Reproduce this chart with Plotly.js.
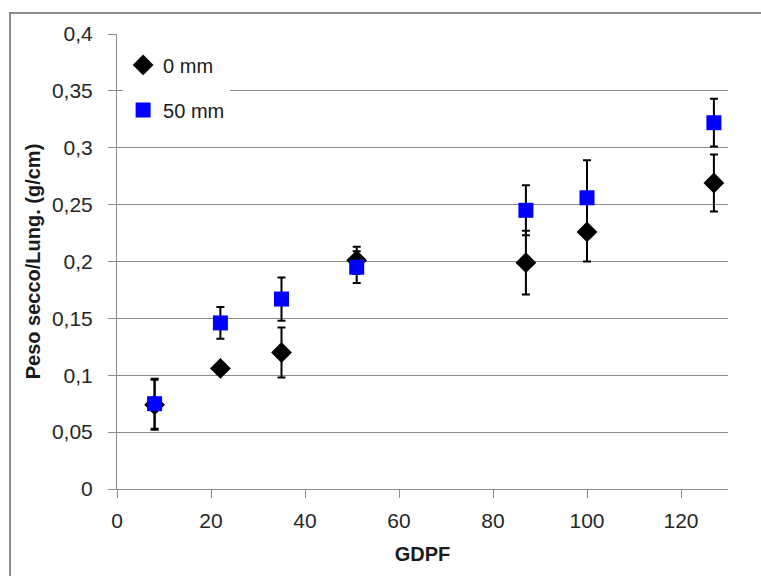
<!DOCTYPE html>
<html>
<head>
<meta charset="utf-8">
<script src="https://cdn.plot.ly/plotly-3.0.1.min.js"></script>
<style>
html,body{margin:0;padding:0;background:#fff;}
#wrap{position:relative;width:761px;height:576px;overflow:hidden;}
#chart{position:absolute;left:0;top:0;width:761px;height:576px;}
#frame{position:absolute;left:9px;top:12px;width:800px;height:600px;border:2px solid #8c8c8c;pointer-events:none;}
</style>
</head>
<body>
<div id="wrap"><div id="chart"></div><div id="frame"></div></div>
<script>
const gdpf = [8, 22, 35, 51, 87, 100, 127];
const mm0 = [0.074, 0.106, 0.120, 0.201, 0.199, 0.226, 0.269];
const mm0Err = [0.022, 0.004, 0.022, 0.012, 0.028, 0.026, 0.025];
const mm50 = [0.075, 0.146, 0.167, 0.195, 0.245, 0.256, 0.322];
const mm50Err = [0.022, 0.014, 0.019, 0.014, 0.022, 0.033, 0.021];
const seriesNames = ['0 mm', '50 mm'];
const xTitle = 'GDPF';
const yTitle = 'Peso secco/Lung. (g/cm)';

const fontFam = '"Liberation Sans", Arial, sans-serif';

const traces = [
  {
    x: gdpf, y: mm0, name: seriesNames[0], type: 'scatter', mode: 'markers',
    legendgroup: 'a',
    marker: {symbol: 'diamond', size: 16, color: '#000000'},
    error_y: {type: 'data', array: mm0Err, visible: true, color: '#000000', thickness: 2, width: 4}
  },
  {
    x: gdpf, y: mm50, name: seriesNames[1], type: 'scatter', mode: 'markers',
    legendgroup: 'b',
    marker: {symbol: 'square', size: 15, color: '#0000ff'},
    error_y: {type: 'data', array: mm50Err, visible: true, color: '#000000', thickness: 2, width: 4}
  }
];

const layout = {
  width: 761, height: 576,
  margin: {l: 117, r: 33, t: 34, b: 87},
  paper_bgcolor: 'rgba(0,0,0,0)',
  plot_bgcolor: '#ffffff',
  separators: ',.',
  font: {family: fontFam, size: 21, color: '#262626'},
  showlegend: true,
  legend: {
    x: 0.01, y: 0.975, xanchor: 'left', yanchor: 'top',
    bgcolor: '#ffffff', borderwidth: 0,
    font: {family: fontFam, size: 20, color: '#1a1a1a'},
    tracegroupgap: 16,
    itemwidth: 30
  },
  xaxis: {
    range: [0, 130], dtick: 20, tick0: 0,
    showgrid: false, zeroline: false,
    showline: true, linecolor: '#8c8c8c', linewidth: 1,
    ticks: 'outside', ticklen: 8, tickcolor: '#8c8c8c', tickwidth: 1,
    ticklabelstandoff: 5,
    tickfont: {family: fontFam, size: 21, color: '#262626'},
    title: {text: xTitle, font: {family: fontFam, size: 20, color: '#1a1a1a', weight: 'bold'}, standoff: 15}
  },
  yaxis: {
    range: [0, 0.4], dtick: 0.05, tick0: 0,
    showgrid: true, gridcolor: '#8c8c8c', gridwidth: 1,
    zeroline: false,
    showline: true, linecolor: '#8c8c8c', linewidth: 1,
    ticks: 'outside', ticklen: 8, tickcolor: '#8c8c8c', tickwidth: 1,
    ticklabelstandoff: 11,
    tickfont: {family: fontFam, size: 21, color: '#262626'},
    title: {text: '<b>' + yTitle + '</b>', font: {family: fontFam, size: 20, color: '#1a1a1a'}, standoff: 5}
  }
};

Plotly.newPlot('chart', traces, layout, {displayModeBar: false, staticPlot: true});
</script>
</body>
</html>
